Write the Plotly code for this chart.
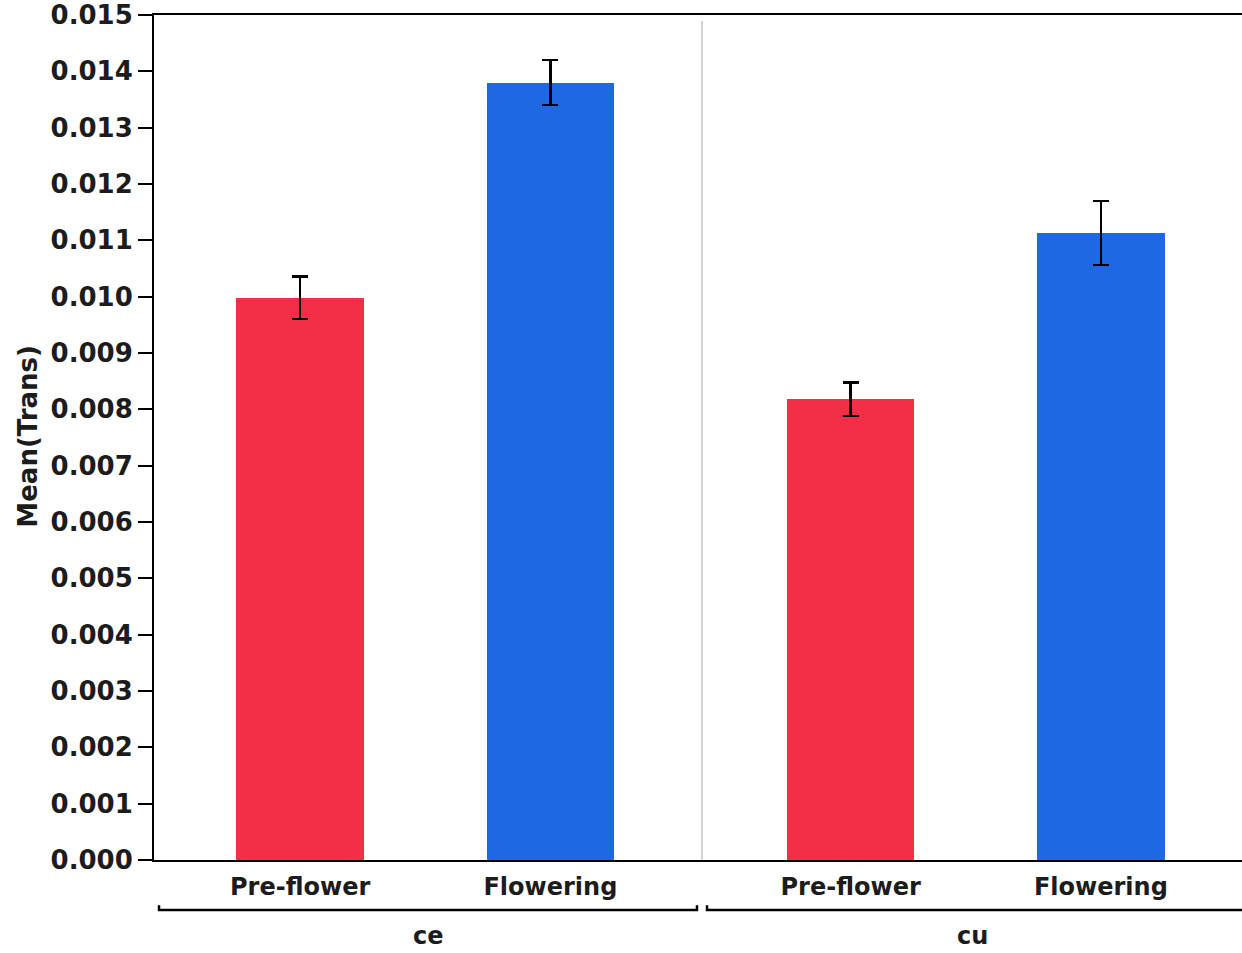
import plotly.graph_objects as go

# Mean transpiration by site and growth stage
groups = ["ce", "cu"]
stages = ["Pre-flower", "Flowering"]
means = {
    "ce": [0.00998, 0.01380],
    "cu": [0.00818, 0.01113],
}
errors = {
    "ce": [0.00038, 0.00040],
    "cu": [0.00030, 0.00057],
}
stage_colors = ["#F42E47", "#1F68E3"]
y_ticks = [i / 1000 for i in range(0, 16)]

FONT = "DejaVu Sans"
TEXT = "#1c1c1c"
group_step = 2.2          # distance between first bars of consecutive groups
bar_width = 0.51

fig = go.Figure()

positions = {}
for gi, g in enumerate(groups):
    positions[g] = [gi * group_step + si for si in range(len(stages))]

for si, stage in enumerate(stages):
    xs = [positions[g][si] for g in groups]
    ys = [means[g][si] for g in groups]
    es = [errors[g][si] for g in groups]
    fig.add_trace(go.Bar(
        x=xs, y=ys, width=bar_width, name=stage,
        marker=dict(color=stage_colors[si], line=dict(width=0)),
        error_y=dict(type="data", array=es, visible=True,
                     color="black", thickness=2.5, width=8),
        showlegend=False,
    ))

x_lo = positions[groups[0]][0] - 0.584
x_hi = positions[groups[-1]][-1] + 0.564

tickvals = [positions[g][si] for g in groups for si in range(len(stages))]
ticktext = [stages[si] for g in groups for si in range(len(stages))]

# group boundaries: plot edges and midpoints between groups
bounds = [x_lo]
for gi in range(len(groups) - 1):
    bounds.append((positions[groups[gi]][-1] + positions[groups[gi + 1]][0]) / 2 + 0.006)
bounds.append(x_hi + 0.1)

shapes = []
annotations = []
# light separator between groups
for b in bounds[1:-1]:
    shapes.append(dict(type="line", xref="x", yref="paper", x0=b, x1=b,
                       y0=0, y1=0.993, line=dict(color="#d4d4d4", width=2)))

# group brackets and labels under the category labels
br_y = -0.0592
br_tip = -0.0535
gap = 0.02
for gi, g in enumerate(groups):
    a = bounds[gi] + gap
    b = bounds[gi + 1] - gap
    shapes.append(dict(
        type="path", xref="x", yref="paper",
        path=f"M {a},{br_tip} L {a},{br_y} L {b},{br_y} L {b},{br_tip}",
        line=dict(color="black", width=2.5),
    ))
    cx = (bounds[gi] + min(bounds[gi + 1], x_hi)) / 2
    annotations.append(dict(
        x=cx, y=-0.0905, xref="x", yref="paper", text=g, showarrow=False,
        xanchor="center", yanchor="middle",
        font=dict(family=FONT, size=24, color=TEXT, weight="bold"),
    ))

annotations.append(dict(
    x=-0.1158, y=0.501, xref="paper", yref="paper", text="Mean(Trans)",
    textangle=-90, showarrow=False, xanchor="center", yanchor="middle",
    font=dict(family=FONT, size=26, color=TEXT, weight="bold"),
))

fig.update_layout(
    width=1242, height=953,
    margin=dict(l=154, r=0, t=15, b=93),
    paper_bgcolor="white", plot_bgcolor="white",
    shapes=shapes, annotations=annotations,
    bargap=0,
    xaxis=dict(
        range=[x_lo, x_hi], tickvals=tickvals, ticktext=ticktext,
        showgrid=False, zeroline=False, showline=True, mirror=True,
        linecolor="black", linewidth=2, ticks="",
        ticklabelstandoff=4,
        tickfont=dict(family=FONT, size=24, color=TEXT, weight="bold"),
    ),
    yaxis=dict(
        range=[0, 0.015], tickvals=y_ticks, tickformat=".3f",
        showgrid=False, zeroline=False, showline=True,
        linecolor="black", linewidth=2,
        ticks="outside", ticklen=14, tickwidth=2, tickcolor="black",
        tickfont=dict(family=FONT, size=26, color=TEXT, weight="bold"),
    ),
)

fig.write_html("out.html")
